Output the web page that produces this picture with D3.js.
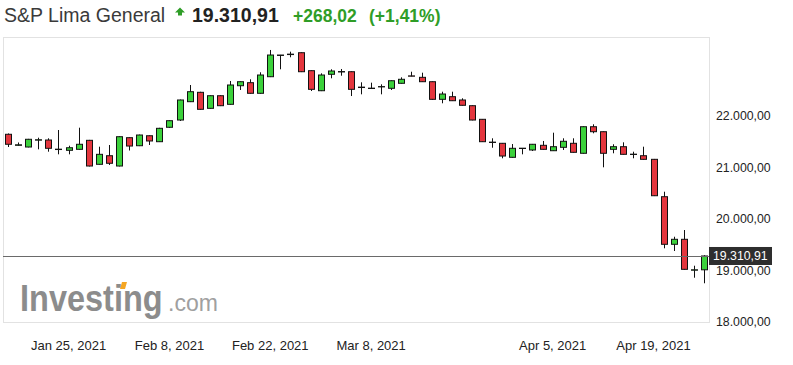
<!DOCTYPE html>
<html lang="en">
<head>
<meta charset="utf-8">
<title>S&amp;P Lima General</title>
<style>
    body { margin: 0; background: #fff; }
    svg { display: block; font-family: Arial, "Liberation Sans", sans-serif; }
</style>
</head>
<body>
<svg id="chart" width="793" height="365"></svg>
<script src="https://d3js.org/d3.v7.min.js"></script>
<script>
// trading days shown on the chart (Apr 1-2 were holidays)
var dates = ["2021-01-15","2021-01-18","2021-01-19","2021-01-20","2021-01-21","2021-01-22",
    "2021-01-25","2021-01-26","2021-01-27","2021-01-28","2021-01-29","2021-02-01","2021-02-02",
    "2021-02-03","2021-02-04","2021-02-05","2021-02-08","2021-02-09","2021-02-10","2021-02-11",
    "2021-02-12","2021-02-15","2021-02-16","2021-02-17","2021-02-18","2021-02-19","2021-02-22",
    "2021-02-23","2021-02-24","2021-02-25","2021-02-26","2021-03-01","2021-03-02","2021-03-03",
    "2021-03-04","2021-03-05","2021-03-08","2021-03-09","2021-03-10","2021-03-11","2021-03-12",
    "2021-03-15","2021-03-16","2021-03-17","2021-03-18","2021-03-19","2021-03-22","2021-03-23",
    "2021-03-24","2021-03-25","2021-03-26","2021-03-29","2021-03-30","2021-03-31","2021-04-05",
    "2021-04-06","2021-04-07","2021-04-08","2021-04-09","2021-04-12","2021-04-13","2021-04-14",
    "2021-04-15","2021-04-16","2021-04-19","2021-04-20","2021-04-21","2021-04-22","2021-04-23",
    "2021-04-26"];

var open = [21674,21460,21427,21560,21563,21385,21363,21382,21557,21091,21258,21058,21608,21452,
    21646,21530,21810,21951,22307,22489,22178,22423,22256,22617,22676,22470,22792,23205,23222,
    23258,22909,22520,22839,22884,22889,22582,22570,22594,22567,22664,22808,22780,22695,22353,
    22404,22340,22229,21965,21515,21499,21227,21398,21369,21460,21355,21421,21499,21305,21821,
    21724,21382,21433,21282,21258,21188,20462,19538,19635,19035,19042.89];
var high = [21690,21515,21585,21608,21596,21757,21452,21802,21565,21433,21466,21635,21615,21668,
    21652,21800,21945,22348,22631,22500,22430,22432,22709,22702,22742,22878,23311,23215,23278,
    23265,22915,22858,22936,22942,22896,22683,22676,22644,22720,22780,22889,22870,22700,22501,
    22501,22373,22235,21970,21596,21505,21485,21408,21486,21544,21705,21596,21596,21828,21868,
    21730,21480,21518,21336,21433,21195,20559,19685,19815,19122,19325];
var low = [21427,21455,21420,21382,21336,21285,21285,21375,21050,21085,21078,21050,21359,21445,
    21466,21525,21796,21932,22300,22150,22170,22222,22250,22534,22463,22462,22785,22936,23169,
    22882,22514,22513,22761,22811,22417,22450,22560,22450,22534,22658,22800,22690,22345,22276,
    22320,22232,21945,21524,21413,21208,21220,21285,21349,21376,21350,21369,21318,21298,21693,
    21033,21305,21280,21208,21182,20475,19460,19408,19045,18889,18781];
var close = [21480,21470,21577,21568,21402,21378,21413,21480,21058,21285,21111,21627,21446,21660,
    21544,21790,21938,22340,22501,22159,22423,22229,22631,22695,22470,22825,23213,23213,23230,
    22889,22547,22825,22903,22892,22547,22590,22563,22600,22714,22742,22802,22695,22353,22456,
    22326,22237,21951,21530,21522,21252,21402,21404,21480,21382,21433,21538,21324,21821,21724,
    21305,21433,21285,21288,21188,20481,19538,19635,19052,19042.89,19310.91];

var yTicks = [18000, 19000, 20000, 21000, 22000];
var xTickDates = ["2021-01-25","2021-02-08","2021-02-22","2021-03-08","2021-04-05","2021-04-19"];
var xTickLabels = ["Jan 25, 2021","Feb 8, 2021","Feb 22, 2021","Mar 8, 2021","Apr 5, 2021","Apr 19, 2021"];

var lastPrice = 19310.91, change = 268.02, changePct = 1.41;

var svg = d3.select("#chart");
var plot = {left: 3, right: 709, top: 37, bottom: 322};

var fmt = d3.formatLocale({decimal: ",", thousands: ".", grouping: [3], currency: ["", ""]}).format(",.2f");

var x = d3.scaleBand().domain(dates).range([plot.left, plot.right]);
var y = d3.scaleLinear().domain([18000, 22000]).range([323.5, 117.5]);

// header
var head = svg.append("g");
head.append("text").attr("x", 4).attr("y", 22).attr("font-size", "19.5px").attr("fill", "#3a3a3a")
    .text("S&P Lima General");
head.append("path").attr("d", "M180,7.5 L185,12.5 L182,12.5 L182,15.5 L178,15.5 L178,12.5 L175,12.5 Z")
    .attr("fill", "#2f9d27");
head.append("text").attr("x", 192).attr("y", 22).attr("font-size", "19.5px").attr("font-weight", "bold")
    .attr("fill", "#222").text(fmt(lastPrice));
head.append("text").attr("x", 293).attr("y", 22).attr("font-size", "17.5px").attr("font-weight", "bold")
    .attr("fill", "#2f9d27").text("+" + fmt(change));
head.append("text").attr("x", 369).attr("y", 22).attr("font-size", "17.5px").attr("font-weight", "bold")
    .attr("fill", "#2f9d27").text("(+" + fmt(changePct) + "%)");

// plot frame
svg.append("rect")
    .attr("x", plot.left + 0.5).attr("y", plot.top + 0.5)
    .attr("width", plot.right - plot.left).attr("height", plot.bottom - plot.top)
    .attr("fill", "#fff").attr("stroke", "#e2e2e2");

// watermark (word stretched a bit taller, like the logo)
var logo = svg.append("g");
logo.append("g").attr("transform", "translate(20,311) scale(1,1.12)")
    .append("text").attr("font-size", "32.5px").attr("font-weight", "bold")
    .attr("fill", "#8c8c8c").text("Investing");
logo.append("text").attr("x", 168).attr("y", 311).attr("font-size", "23px")
    .attr("fill", "#a0a0a0").text(".com");
logo.append("path")
    .attr("d", "M122,282 l5,0 l-2,7 l-5,0 Z")
    .attr("fill", "#f5a623");

// y axis labels
svg.append("g").selectAll("text").data(yTicks).join("text")
    .attr("x", 716).attr("y", function (d) { return y(d) + 2.5; })
    .attr("font-size", "12.3px").attr("fill", "#222")
    .text(function (d) { return fmt(d); });

// x axis labels
svg.append("g").selectAll("text").data(xTickDates).join("text")
    .attr("x", function (d) { return x(d) + x.bandwidth() / 2; })
    .attr("y", 350).attr("text-anchor", "middle")
    .attr("font-size", "13px").attr("fill", "#222")
    .text(function (d, i) { return xTickLabels[i]; });

// candles
var candles = dates.map(function (d, i) {
    return {date: d, o: open[i], h: high[i], l: low[i], c: close[i]};
});
var cg = svg.append("g").selectAll("g").data(candles).join("g");
cg.append("line")
    .attr("x1", function (d) { return Math.round(x(d.date) + x.bandwidth() / 2) + 0.5; })
    .attr("x2", function (d) { return Math.round(x(d.date) + x.bandwidth() / 2) + 0.5; })
    .attr("y1", function (d) { return y(d.h); })
    .attr("y2", function (d) { return y(d.l); })
    .attr("stroke", "#111").attr("stroke-width", 1);
cg.append("rect")
    .attr("x", function (d) { return Math.round(x(d.date) + x.bandwidth() / 2) - 2.5; })
    .attr("width", 6)
    .attr("y", function (d) { return y(Math.max(d.o, d.c)); })
    .attr("height", function (d) { return Math.max(0.3, Math.abs(y(d.o) - y(d.c))); })
    .attr("fill", function (d) { return d.c >= d.o ? "#3bd13b" : "#e4363e"; })
    .attr("stroke", "#111").attr("stroke-width", 1);

// last price line + label
svg.append("line")
    .attr("x1", plot.left).attr("x2", plot.right)
    .attr("y1", Math.round(y(lastPrice)) + 0.5).attr("y2", Math.round(y(lastPrice)) + 0.5)
    .attr("stroke", "#6a6a6a").attr("stroke-width", 1);
svg.append("rect").attr("x", 709).attr("y", y(lastPrice) - 9).attr("width", 63).attr("height", 18)
    .attr("fill", "#2e2e2e");
svg.append("text").attr("x", 713).attr("y", y(lastPrice) + 4.5)
    .attr("font-size", "12.3px").attr("fill", "#fff").text(fmt(lastPrice));
</script>
</body>
</html>
